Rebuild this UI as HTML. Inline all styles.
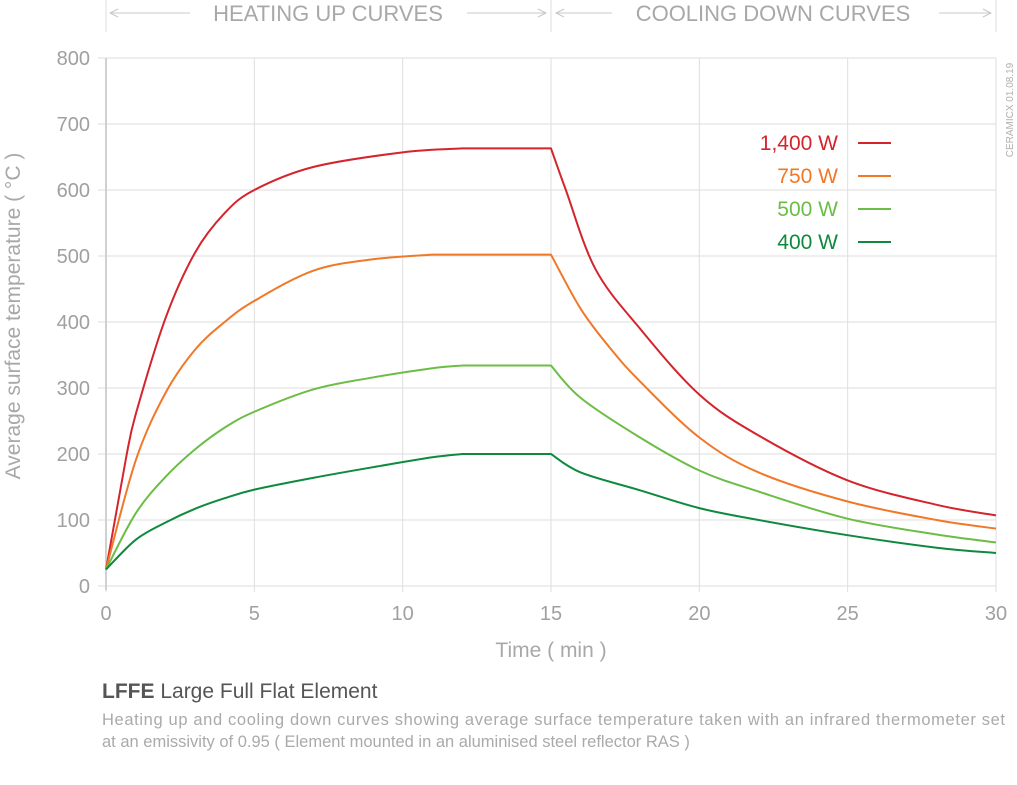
<!DOCTYPE html>
<html><head><meta charset="utf-8"><style>
body{margin:0;background:#fff;}
svg{display:block;font-family:"Liberation Sans",sans-serif;}
</style></head><body>
<svg id="s" width="1017" height="785" viewBox="0 0 1017 785" xmlns="http://www.w3.org/2000/svg">
<g stroke="#dcdcdc" stroke-width="1">
<line x1="106" y1="0" x2="106" y2="32"/><line x1="551" y1="0" x2="551" y2="32"/><line x1="996" y1="0" x2="996" y2="32"/>
</g>
<g stroke="#c8c8c8" stroke-width="1" fill="none">
<line x1="110" y1="13" x2="190" y2="13"/><path d="M118 9 L110 13 L118 17"/>
<line x1="467" y1="13" x2="546" y2="13"/><path d="M538 9 L546 13 L538 17"/>
<line x1="556" y1="13" x2="612" y2="13"/><path d="M564 9 L556 13 L564 17"/>
<line x1="939" y1="13" x2="991" y2="13"/><path d="M983 9 L991 13 L983 17"/>
</g>
<g fill="#a8a8a8" font-size="22">
<text x="328" y="21" text-anchor="middle">HEATING UP CURVES</text>
<text x="773" y="21" text-anchor="middle">COOLING DOWN CURVES</text>
</g>
<g id="grid" stroke="#dedede" stroke-width="1"></g>
<line x1="106" y1="58" x2="106" y2="590" stroke="#d0d0d0" stroke-width="2"/>
<g id="lab" fill="#a0a0a0" font-size="20"></g>
<text x="0" y="0" transform="translate(20,316) rotate(-90)" text-anchor="middle" fill="#a8a8a8" font-size="21">Average surface temperature ( °C )</text>
<text x="551" y="657" text-anchor="middle" fill="#a8a8a8" font-size="21">Time ( min )</text>
<text x="0" y="0" transform="translate(1013,110) rotate(-90)" text-anchor="middle" fill="#b0b0b0" font-size="10">CERAMICX 01.08.19</text>
<g id="curves" fill="none" stroke-width="2" stroke-linejoin="round"></g>
<g font-size="21" text-anchor="end">
<text x="838" y="150" fill="#d4242c">1,400 W</text>
<text x="838" y="183" fill="#f07828">750 W</text>
<text x="838" y="216" fill="#6cbd45">500 W</text>
<text x="838" y="249" fill="#0e8a3e">400 W</text>
</g>
<g stroke-width="2">
<line x1="858" y1="143" x2="891" y2="143" stroke="#d4242c"/>
<line x1="858" y1="176" x2="891" y2="176" stroke="#f07828"/>
<line x1="858" y1="209" x2="891" y2="209" stroke="#6cbd45"/>
<line x1="858" y1="242" x2="891" y2="242" stroke="#0e8a3e"/>
</g>
<text x="102" y="698" fill="#555" font-size="21"><tspan font-weight="bold">LFFE</tspan> Large Full Flat Element</text>
<text x="102" y="725" fill="#aaa" font-size="16.5" textLength="903">Heating up and cooling down curves showing average surface temperature taken with an infrared thermometer set</text>
<text x="102" y="747" fill="#aaa" font-size="16.5">at an emissivity of 0.95  ( Element mounted in an aluminised steel reflector RAS )</text>
</svg>
<script>
var NS="http://www.w3.org/2000/svg";
function X(t){return 106+t*29.667;}function Y(v){return 586-v*0.66;}
function el(n,a,p,txt){var e=document.createElementNS(NS,n);for(var k in a)e.setAttribute(k,a[k]);if(txt!==undefined)e.textContent=txt;p.appendChild(e);return e;}
var g=document.getElementById('grid'),l=document.getElementById('lab');
for(var v=0;v<=800;v+=100){el('line',{x1:98,y1:Y(v),x2:996,y2:Y(v)},g);el('text',{x:90,y:Y(v)+7,'text-anchor':'end'},l,String(v));}
for(var t=5;t<=30;t+=5){el('line',{x1:X(t),y1:58,x2:X(t),y2:586},g);}
for(var t=0;t<=30;t+=5){el('line',{x1:X(t),y1:586,x2:X(t),y2:592},g);el('text',{x:X(t),y:620,'text-anchor':'middle'},l,String(t));}
var D=[["#d4242c",[[[0,25],[0.7,200]],[[0.7,200],[1,260],[2,405],[3,505],[4,565],[5,600],[7,635],[10,657],[12,663]],[[12,663],[15,663]],[[15,663],[15.5,600],[16.5,480],[18,390],[20,290],[22,228],[25,160],[28,123],[30,107]]]],
["#f07828",[[[0,25],[1,190],[2,292],[3,358],[4,400],[5,432],[7,478],[9,495],[11,502]],[[11,502],[15,502]],[[15,502],[16,420],[17,360],[18,310],[20,225],[22,172],[25,128],[28,100],[30,87]]]],
["#6cbd45",[[[0,25],[1,110],[2,165],[3,207],[4,240],[5,264],[7,298],[9,316],[11,330],[12,334]],[[12,334],[15,334]],[[15,334],[16,285],[18,225],[20,175],[22,143],[25,102],[28,78],[30,66]]]],
["#0e8a3e",[[[0,25],[1,70],[2,96],[3,117],[4,133],[5,146],[7,164],[9,180],[11,195],[12,200]],[[12,200],[15,200]],[[15,200],[16,172],[18,145],[20,118],[22,100],[25,77],[28,58],[30,50]]]]];
var c=document.getElementById('curves');
D.forEach(function(s){var d="";
s[1].forEach(function(seg){var p=seg.map(function(q){return [X(q[0]),Y(q[1])];});
d+=(d?" L":"M")+p[0][0]+" "+p[0][1];
for(var i=0;i<p.length-1;i++){var p0=p[i-1]||p[i],p1=p[i],p2=p[i+1],p3=p[i+2]||p2;var k=1/6;
d+=" C"+(p1[0]+(p2[0]-p0[0])*k)+" "+(p1[1]+(p2[1]-p0[1])*k)+" "+(p2[0]-(p3[0]-p1[0])*k)+" "+(p2[1]-(p3[1]-p1[1])*k)+" "+p2[0]+" "+p2[1];}});
el('path',{d:d,stroke:s[0]},c);});
</script>
</body></html>
